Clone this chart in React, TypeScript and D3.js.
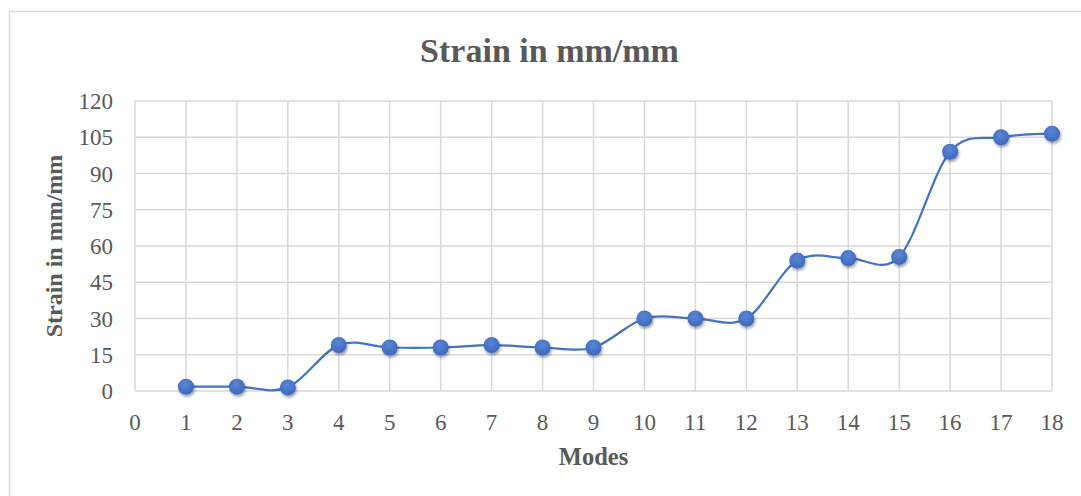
import React from "react";
import * as d3 from "d3";

// Mode numbers and measured strain values
const modes = [1, 2, 3, 4, 5, 6, 7, 8, 9, 10, 11, 12, 13, 14, 15, 16, 17, 18];
const strain = [1.8, 1.8, 1.5, 19, 18, 18, 19, 18, 18, 30, 30, 30, 54, 55, 55.5, 99, 105, 106.5];
const xTicks = d3.range(0, 19);
const yTicks = [0, 15, 30, 45, 60, 75, 90, 105, 120];

const W = 1081;
const H = 496;
const plot = { left: 135, top: 101, right: 1052, bottom: 391 };
const textColor = "#595959";
const gridColor = "#d9d9d9";
const lineColor = "#4472c4";
const font = "'Liberation Serif', 'Times New Roman', serif";

export default function App() {
  const x = d3.scaleLinear().domain([0, 18]).range([plot.left, plot.right]);
  const y = d3.scaleLinear().domain([0, 120]).range([plot.bottom, plot.top]);
  const pts: [number, number][] = modes.map((m, i) => [x(m), y(strain[i])]);
  const path = d3.line().curve(d3.curveCardinal.tension(0))(pts) || "";

  return (
    <svg
      width={W}
      height={H}
      style={{ position: "absolute", left: 0, top: 0, background: "#fff" }}
      fontFamily={font}
    >
      <defs>
        <filter id="shadow" x="-50%" y="-50%" width="200%" height="200%">
          <feDropShadow dx="1" dy="2" stdDeviation="1.6" floodColor="#000" floodOpacity="0.4" />
        </filter>
        <radialGradient id="dot" cx="45%" cy="35%" r="70%">
          <stop offset="0%" stopColor="#5a86d6" />
          <stop offset="100%" stopColor="#3a66bb" />
        </radialGradient>
      </defs>
      <rect x={9.5} y={11.5} width={1100} height={520} fill="none" stroke={gridColor} strokeWidth={1.5} />

      {/* grid */}
      {yTicks.map((t) => (
        <line key={"gy" + t} x1={plot.left} x2={plot.right} y1={y(t)} y2={y(t)} stroke={gridColor} strokeWidth={1.5} />
      ))}
      {xTicks.map((t) => (
        <line key={"gx" + t} x1={x(t)} x2={x(t)} y1={plot.top} y2={plot.bottom} stroke={gridColor} strokeWidth={1.5} />
      ))}

      {/* tick labels */}
      {yTicks.map((t) => (
        <text key={"ty" + t} x={113} y={y(t) + 8} textAnchor="end" fontSize={23} fill={textColor}>
          {t}
        </text>
      ))}
      {xTicks.map((t) => (
        <text key={"tx" + t} x={x(t)} y={430} textAnchor="middle" fontSize={23} fill={textColor}>
          {t}
        </text>
      ))}

      {/* title and axis titles */}
      <text x={549.5} y={61.5} textAnchor="middle" fontSize={34} fontWeight="bold" fill={textColor}>
        Strain in mm/mm
      </text>
      <text x={(plot.left + plot.right) / 2} y={465} textAnchor="middle" fontSize={24.5} fontWeight="bold" fill={textColor}>
        Modes
      </text>
      <text
        transform={`translate(62,${(plot.top + plot.bottom) / 2}) rotate(-90)`}
        textAnchor="middle"
        fontSize={24}
        fontWeight="bold"
        fill={textColor}
      >
        Strain in mm/mm
      </text>

      {/* series */}
      <path d={path} fill="none" stroke={lineColor} strokeWidth={2.25} />
      {pts.map(([px, py], i) => (
        <circle key={"p" + i} cx={px} cy={py} r={8} fill="url(#dot)" filter="url(#shadow)" />
      ))}
    </svg>
  );
}
